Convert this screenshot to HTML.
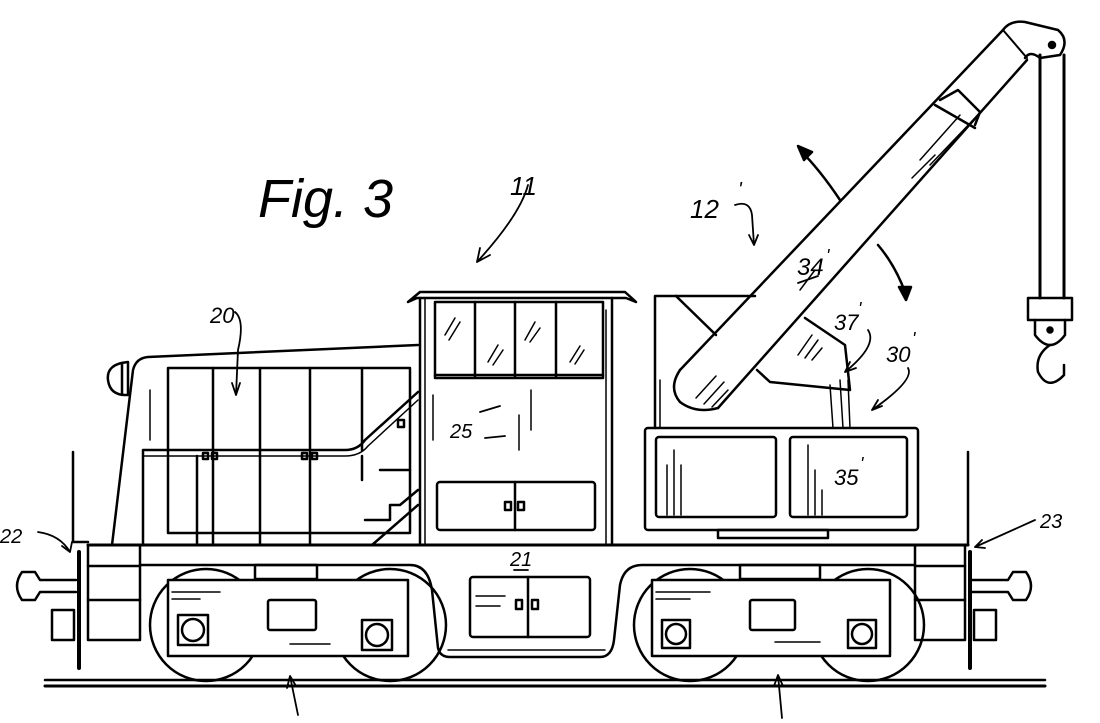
<!DOCTYPE html>
<html><head><meta charset="utf-8"><style>
html,body{margin:0;padding:0;background:#fff;}
svg{display:block}
text{font-family:"Liberation Sans",sans-serif;font-style:italic;fill:#000}
</style></head><body>
<svg width="1100" height="723" viewBox="0 0 1100 723" xmlns="http://www.w3.org/2000/svg" fill="none" stroke="#000" stroke-width="2.5" stroke-linecap="round" stroke-linejoin="round">
<!-- rails -->
<line x1="45" y1="680" x2="1045" y2="680"/>
<line x1="45" y1="686" x2="1045" y2="686" stroke-width="3"/>

<!-- end plates -->
<polyline points="73,452 73,542 88,542"/>
<line x1="79" y1="552" x2="79" y2="668" stroke-width="4"/>
<polyline points="968,452 968,545"/>
<line x1="970" y1="552" x2="970" y2="668" stroke-width="4"/>

<!-- couplers left -->
<path d="M76,580 H40 L35,572 H22 Q12,586 22,600 H35 L40,592 H76"/>
<rect x="52" y="610" width="22" height="30"/>
<!-- coupler right -->
<path d="M972,580 H1008 L1013,572 H1026 Q1036,586 1026,600 H1013 L1008,592 H972"/>
<rect x="974" y="610" width="22" height="30"/>

<!-- end blocks -->
<rect x="88" y="545" width="52" height="95"/>
<line x1="88" y1="566" x2="140" y2="566"/>
<line x1="88" y1="600" x2="140" y2="600"/>
<rect x="915" y="545" width="50" height="95"/>
<line x1="915" y1="566" x2="965" y2="566"/>
<line x1="915" y1="600" x2="965" y2="600"/>

<!-- deck -->
<line x1="88" y1="545" x2="968" y2="545" stroke-width="3"/>
<path d="M140,565 H410 Q428,565 432,590 L438,648 Q440,657 450,657 H600 Q612,657 614,640 L620,585 Q624,565 642,565 H915"/>
<line x1="448" y1="650" x2="605" y2="650" stroke-width="1.5"/>
<!-- center box -->
<rect x="470" y="577" width="120" height="60" rx="3"/>
<line x1="528" y1="577" x2="528" y2="637"/>
<rect x="516" y="600" width="6" height="9"/><rect x="532" y="600" width="6" height="9"/>
<line x1="476" y1="596" x2="505" y2="596" stroke-width="1.5"/>
<line x1="476" y1="606" x2="500" y2="606" stroke-width="1.5"/>

<!-- left truck -->
<circle cx="206" cy="625" r="56"/>
<circle cx="390" cy="625" r="56"/>
<rect x="168" y="580" width="240" height="76" fill="#fff"/>
<rect x="255" y="565" width="62" height="14"/>
<rect x="178" y="615" width="30" height="30"/><circle cx="193" cy="630" r="11"/>
<rect x="362" y="620" width="30" height="30"/><circle cx="377" cy="635" r="11"/>
<rect x="268" y="600" width="48" height="30" rx="2"/>
<line x1="172" y1="592" x2="220" y2="592" stroke-width="1.5"/>
<line x1="172" y1="599" x2="200" y2="599" stroke-width="1.5"/>
<line x1="290" y1="644" x2="330" y2="644" stroke-width="1.5"/>

<!-- right truck -->
<circle cx="690" cy="625" r="56"/>
<circle cx="868" cy="625" r="56"/>
<rect x="652" y="580" width="238" height="76" fill="#fff"/>
<rect x="740" y="565" width="80" height="14"/>
<rect x="662" y="620" width="28" height="28"/><circle cx="676" cy="634" r="10"/>
<rect x="848" y="620" width="28" height="28"/><circle cx="862" cy="634" r="10"/>
<rect x="750" y="600" width="45" height="30" rx="2"/>
<line x1="656" y1="592" x2="710" y2="592" stroke-width="1.5"/>
<line x1="656" y1="599" x2="690" y2="599" stroke-width="1.5"/>
<line x1="775" y1="642" x2="820" y2="642" stroke-width="1.5"/>

<!-- hood -->
<path d="M112,545 L133,370 Q136,358 148,357 L418,345"/>
<path d="M128,362 Q106,364 108,380 Q110,396 128,395 Z"/>
<line x1="122" y1="364" x2="122" y2="394"/>
<line x1="150" y1="390" x2="150" y2="440" stroke-width="1.5"/>
<rect x="168" y="368" width="242" height="165"/>
<line x1="213" y1="368" x2="213" y2="545"/>
<line x1="260" y1="368" x2="260" y2="545"/>
<line x1="310" y1="368" x2="310" y2="545"/>
<line x1="362" y1="368" x2="362" y2="450"/>
<path d="M143,545 V450 H345 Q358,450 365,440 L418,392"/>
<path d="M143,456 H345 Q360,456 368,446 L418,400" stroke-width="1.5"/>
<line x1="197" y1="456" x2="197" y2="545"/>
<line x1="362" y1="456" x2="362" y2="480"/>
<rect x="203" y="453" width="5" height="6"/><rect x="212" y="453" width="5" height="6"/>
<rect x="302" y="453" width="5" height="6"/><rect x="312" y="453" width="5" height="6"/>
<rect x="398" y="420" width="6" height="7"/>
<path d="M365,520 H390 V505 H400 L418,490 M372,545 L418,505"/>
<line x1="380" y1="470" x2="410" y2="470"/>

<!-- cab -->
<path d="M408,302 L420,292 H625 L636,302 L626,298 H417 Z"/>
<line x1="420" y1="298" x2="420" y2="545"/>
<line x1="425" y1="298" x2="425" y2="545" stroke-width="1.5"/>
<line x1="612" y1="298" x2="612" y2="545"/>
<line x1="606" y1="310" x2="606" y2="545" stroke-width="1.5"/>
<rect x="435" y="302" width="168" height="76"/>
<line x1="435" y1="375" x2="603" y2="375"/>
<line x1="475" y1="302" x2="475" y2="377"/>
<line x1="515" y1="302" x2="515" y2="377"/>
<line x1="556" y1="302" x2="556" y2="377"/>
<g stroke-width="1.5">
<path d="M445,335 L455,318 M449,340 L460,322 M488,362 L498,345 M493,365 L503,350 M525,340 L535,322 M530,342 L540,328 M570,362 L580,346 M575,364 L584,350"/>
<line x1="433" y1="395" x2="433" y2="440"/><line x1="531" y1="390" x2="531" y2="430"/><line x1="519" y1="415" x2="519" y2="450"/>
</g>
<rect x="437" y="482" width="158" height="48" rx="3"/>
<line x1="515" y1="482" x2="515" y2="530"/>
<rect x="505" y="502" width="6" height="8"/><rect x="518" y="502" width="6" height="8"/>

<!-- crane house -->
<polyline points="655,428 655,296 755,296"/>
<line x1="660" y1="380" x2="660" y2="428" stroke-width="1.5"/>
<line x1="676" y1="296" x2="716" y2="335"/>
<rect x="645" y="428" width="273" height="102" rx="3"/>
<rect x="656" y="437" width="120" height="80" rx="3"/>
<rect x="790" y="437" width="117" height="80" rx="3"/>
<g stroke-width="1.5">
<line x1="667" y1="465" x2="667" y2="515"/><line x1="674" y1="450" x2="674" y2="515"/><line x1="681" y1="465" x2="681" y2="515"/>
<line x1="808" y1="445" x2="808" y2="515"/><line x1="815" y1="470" x2="815" y2="515"/><line x1="822" y1="490" x2="822" y2="515"/>
<line x1="830" y1="385" x2="833" y2="428"/><line x1="840" y1="380" x2="843" y2="428"/><line x1="848" y1="380" x2="850" y2="428"/>
</g>
<rect x="718" y="530" width="110" height="8"/>

<!-- boom mount 37' -->
<path d="M805,318 L845,345 L850,390 L770,382 L757,370"/>
<path d="M798,355 L812,335 M805,358 L818,340 M812,360 L822,348" stroke-width="1.5"/>

<!-- boom -->
<path d="M680,370 L1003,30"/>
<path d="M718,408 L1027,60"/>
<path d="M680,370 Q668,388 680,402 Q696,414 718,408" fill="#fff"/>
<path d="M940,100 L958,90 L980,112 L975,125"/>
<path d="M935,105 L975,128"/>
<path d="M1003,30 Q1010,20 1025,22 L1058,30 Q1070,40 1060,55 L1040,58 Q1030,50 1025,58"/>
<path d="M1003,30 L1027,58" stroke-width="2"/>
<circle cx="1052" cy="45" r="3" fill="#000"/>
<g stroke-width="1.5">
<path d="M696,398 L716,376 M704,404 L724,382 M712,407 L728,390"/>
<path d="M920,160 L960,115 M930,165 L975,118 M912,178 L935,155"/>
<path d="M800,290 L815,270"/>
</g>
<!-- cable and hook -->
<line x1="1040" y1="55" x2="1040" y2="298" stroke-width="3"/>
<line x1="1064" y1="55" x2="1064" y2="298" stroke-width="3"/>
<rect x="1028" y="298" width="44" height="22"/>
<path d="M1035,320 V335 Q1050,355 1065,335 V320"/>
<circle cx="1050" cy="330" r="2.5" fill="#000"/>
<path d="M1050,345 Q1035,355 1038,372 Q1048,392 1064,375 V365"/>

<!-- swing arrows -->
<path d="M840,200 Q820,170 800,150"/>
<path d="M798,146 L812,152 L804,160 Z" fill="#000"/>
<path d="M878,245 Q895,265 905,292"/>
<path d="M906,300 L899,287 L911,287 Z" fill="#000"/>

<!-- leader arrows -->
<g stroke-width="1.8">
<path d="M528,185 Q520,215 477,262 M477,262 L480,248 M477,262 L490,255"/>
<path d="M735,205 Q750,200 752,215 L754,245 M754,245 L749,235 M754,245 L758,235"/>
<path d="M235,312 Q245,320 238,350 L236,395 M236,395 L232,383 M236,395 L240,383"/>
<path d="M868,330 Q878,345 845,372 M845,372 L850,362 M845,372 L856,368"/>
<path d="M908,368 Q915,380 872,410 M872,410 L878,400 M872,410 L882,406"/>
<path d="M38,532 Q60,535 70,552 M70,552 L62,546 M70,552 L72,542"/>
<path d="M1035,520 L975,547 M975,547 L982,540 M975,547 L985,548"/>
<path d="M298,715 L290,676 M290,676 L287,688 M290,676 L296,686"/>
<path d="M782,718 L778,675 M778,675 L774,686 M778,675 L783,686"/>
<path d="M480,412 L500,406 M485,438 L505,436 M798,283 L818,276 M514,570 L528,570" />
</g>

<!-- labels -->
<g stroke="none">
<text x="258" y="217" font-size="54">Fig. 3</text>
<text x="510" y="195" font-size="26">11</text>
<text x="690" y="218" font-size="26">12</text>
<text x="738" y="196" font-size="20">'</text>
<text x="797" y="275" font-size="24">34</text>
<text x="826" y="262" font-size="18">'</text>
<text x="834" y="330" font-size="22">37</text>
<text x="858" y="315" font-size="18">'</text>
<text x="886" y="362" font-size="22">30</text>
<text x="912" y="345" font-size="18">'</text>
<text x="210" y="323" font-size="22">20</text>
<text x="450" y="438" font-size="20">25</text>
<text x="834" y="485" font-size="22">35</text>
<text x="860" y="470" font-size="18">'</text>
<text x="510" y="566" font-size="20">21</text>
<text x="0" y="543" font-size="20">22</text>
<text x="1040" y="528" font-size="20">23</text>
</g>
</svg>
</body></html>
